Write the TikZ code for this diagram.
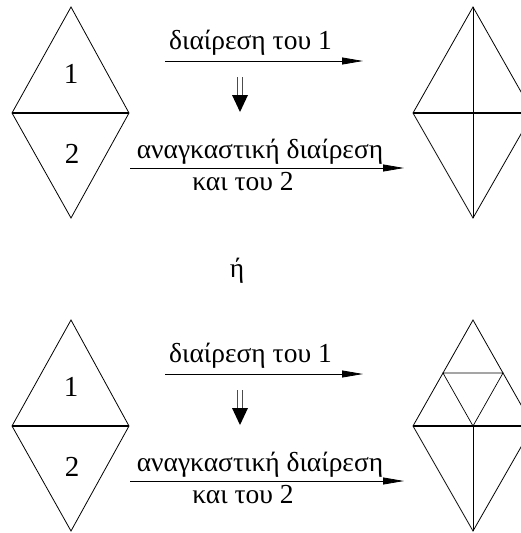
\documentclass[tikz,border=0pt]{standalone}
\usepackage{fontspec}
\setmainfont{Liberation Serif}
\usetikzlibrary{arrows.meta}
\begin{document}
\begin{tikzpicture}[x=1pt,y=-1pt,
  edge/.style={line width=0.8pt,line join=miter},
  midline/.style={line width=1.7pt},
  inner/.style={line width=0.7pt},
  conn/.style={line width=0.8pt,-{Triangle[length=21pt,width=7pt]}},
  dbl/.style={line width=0.5pt,draw=black!70},
  lbl/.style={inner sep=0pt,anchor=base,font=\fontsize{27.5}{32}\selectfont},
  num/.style={inner sep=0pt,anchor=base,font=\fontsize{29}{34}\selectfont}]
\useasboundingbox (0,0) rectangle (521,533);
\clip (0,0) rectangle (521,533);

% one row: left diamond split in two, arrows and labels, refined diamond
\foreach \row/\dy in {a/0,b/313}{
  \begin{scope}[yshift=-\dy pt]
    % left diamond
    \coordinate (\row LT) at (71,7);
    \coordinate (\row LL) at (12,113);
    \coordinate (\row LR) at (129,113);
    \coordinate (\row LB) at (71,218);
    \draw[edge] (\row LL) -- (\row LT) -- (\row LR) -- (\row LB) -- cycle;
    \draw[midline] (\row LL) -- (\row LR);
    \node[num] (\row n1) at (71,83) {1};
    \node[num] (\row n2) at (72,163) {2};
    % right diamond
    \coordinate (\row RT) at (473,7);
    \coordinate (\row RL) at (413,113);
    \coordinate (\row RR) at (533,113);
    \coordinate (\row RB) at (473,218);
    \coordinate (\row RC) at (473,113);
    \draw[edge] (\row RL) -- (\row RT) -- (\row RR) -- (\row RB) -- cycle;
    \draw[midline] (\row RL) -- (\row RR);
    % upper arrow and label
    \coordinate (\row A1s) at (165,61);
    \coordinate (\row A1e) at (363,61);
    \draw[conn] (\row A1s) -- (\row A1e);
    \node[lbl] (\row t1) at (250.5,49) {διαίρεση του 1};
    % double arrow between the two steps
    \coordinate (\row Ds) at (240,77);
    \coordinate (\row Dm) at (240,95);
    \coordinate (\row Dt) at (240,112);
    \draw[dbl] ([xshift=-2.5pt]\row Ds) -- ([xshift=-2.5pt]\row Dm);
    \draw[dbl] ([xshift=2.5pt]\row Ds) -- ([xshift=2.5pt]\row Dm);
    \fill ([xshift=-8pt]\row Dm) -- ([xshift=8pt]\row Dm) -- (\row Dt) -- cycle;
    % lower arrow and labels
    \coordinate (\row A2s) at (130,168);
    \coordinate (\row A2e) at (404,168);
    \draw[conn] (\row A2s) -- (\row A2e);
    \node[lbl] (\row t2) at (260,158) {αναγκαστική διαίρεση};
    \node[lbl] (\row t3) at (243,190) {και του 2};
  \end{scope}
}

% first refinement: split along the vertical axis
\draw[inner] (aRT) -- (aRB);

% second refinement: four triangles on top, bisected bottom
\draw[inner] (bRC) -- (bRB);
\path (bRT) -- (bRL) coordinate[pos=0.5] (bML);
\path (bRT) -- (bRR) coordinate[pos=0.5] (bMR);
\draw[inner] (bML) -- (bMR) -- (bRC) -- cycle;

% alternative
\node[lbl] (or) at (237,277) {ή};
\end{tikzpicture}
\end{document}
